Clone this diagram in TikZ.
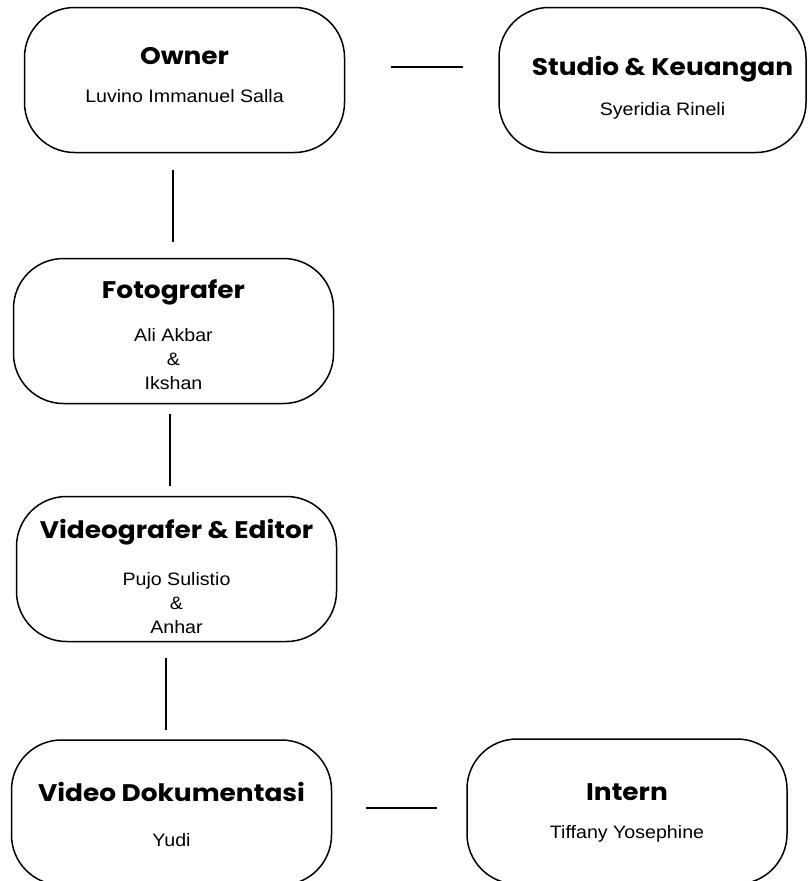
\documentclass[tikz,border=0pt]{standalone}
\usepackage{fontspec}
\setmainfont{Liberation Sans}[FakeStretch=1.09]
\newfontfamily\headfont{Poppins}[FakeStretch=1.1]
\usetikzlibrary{calc}

% title, extra space, names
\newcommand{\jabatan}[3]{{\headfont\bfseries\fontsize{24}{24}\selectfont #1}\\[#2]#3}

\begin{document}
\begin{tikzpicture}[x=1pt, y=1pt,
    box/.style={draw, line width=1.5pt, rounded corners=50pt, minimum width=320pt,
      minimum height=145pt, inner sep=0pt},
    isi/.style={align=center, inner sep=0pt, font=\fontsize{18}{24}\selectfont},
    link/.style={line width=1.5pt}]
    \path[use as bounding box] (0,0) rectangle (808,-881);
    \clip (0,0) rectangle (808,-881);

    % boxes
    \node[box] (owner) at (184.5,-80) {};
    \node[box, minimum width=307pt] (studio) at (652.5,-80) {};
    \node[box] (foto) at (173.5,-331) {};
    \node[box] (video) at (176.5,-569) {};
    \node[box] (dok) at (171.5,-812.5) {};
    \node[box] (intern) at (627,-811.5) {};

    % texts
    \node[isi] (owner-isi) at ([yshift=5pt]owner) {\jabatan{Owner}{14pt}{Luvino Immanuel Salla}};
    \node[isi] (studio-isi) at ([xshift=10pt, yshift=-8pt]studio) {\jabatan{Studio \& Keuangan}{16pt}{Syeridia Rineli}};
    \node[isi] (foto-isi) at ([yshift=-3.5pt]foto) {\jabatan{Fotografer}{19pt}{Ali Akbar\\\&\\Ikshan}};
    \node[isi] (video-isi) at ([yshift=-7pt]video) {\jabatan{Videografer \& Editor}{23pt}{Pujo Sulistio\\\&\\Anhar}};
    \node[isi] (dok-isi) at ([yshift=-2pt]dok) {\jabatan{Video Dokumentasi}{21pt}{Yudi}};
    \node[isi] (intern-isi) at ([yshift=-1pt]intern) {\jabatan{Intern}{14pt}{Tiffany Yosephine}};

    % lines
    \draw[link, shorten <=46pt, shorten >=35pt] ([yshift=13pt]owner.east) -- ([yshift=13pt]owner.east -| studio.west);
    \draw[link, shorten <=17pt, shorten >=16pt] ([xshift=-11.5pt]owner.south) -- ([xshift=-11.5pt]owner.south |- foto.north);
    \draw[link, shorten <=10pt, shorten >=10pt] ([xshift=-3.5pt]foto.south) -- ([xshift=-3.5pt]foto.south |- video.north);
    \draw[link, shorten <=16pt, shorten >=9pt] ([xshift=-10.5pt]video.south) -- ([xshift=-10.5pt]video.south |- dok.north);
    \draw[link, shorten <=34pt, shorten >=29pt] ([yshift=4.5pt]dok.east) -- ([yshift=4.5pt]dok.east -| intern.west);
\end{tikzpicture}
\end{document}
